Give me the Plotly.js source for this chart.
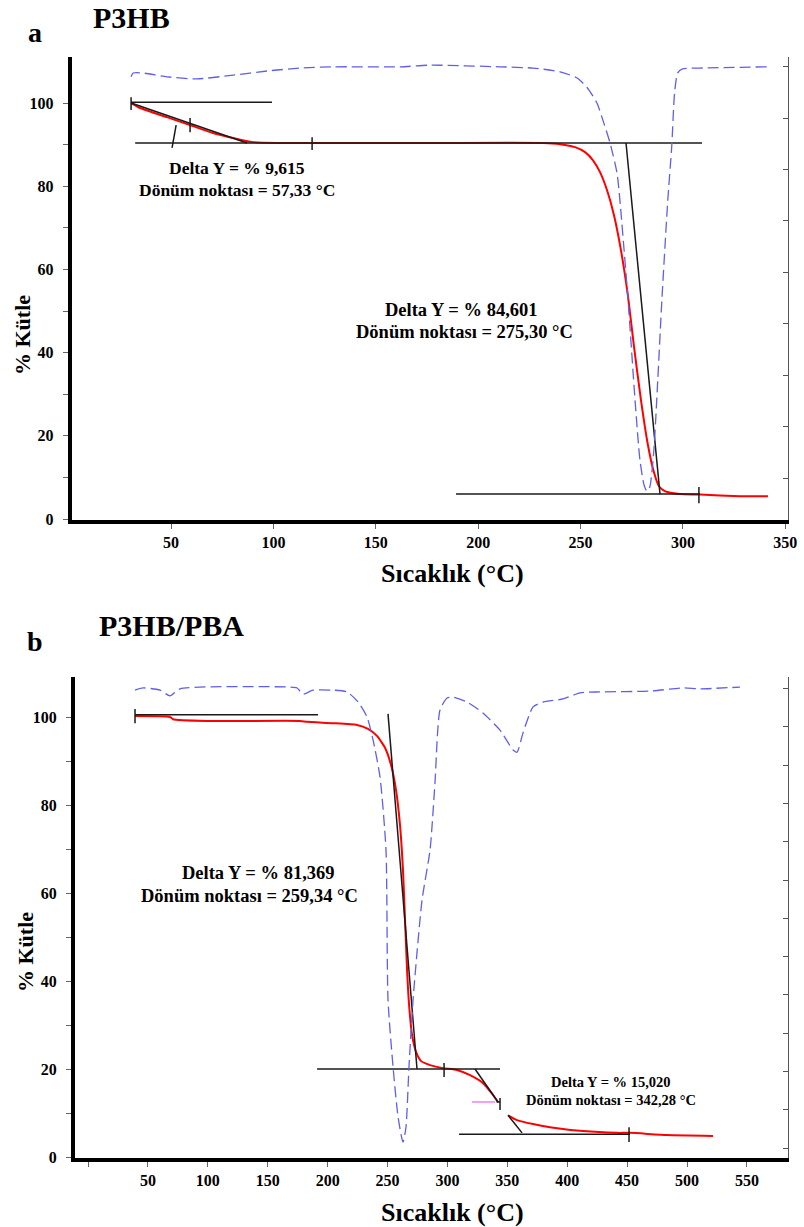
<!DOCTYPE html>
<html>
<head>
<meta charset="utf-8">
<script src="https://cdn.plot.ly/plotly-3.0.1.min.js"></script>
<style>html,body{margin:0;padding:0;background:#fff;}#chart{width:804px;height:1227px;}</style>
</head>
<body>
<div id="chart"></div>
<script>
// ---------- Panel a : P3HB ----------
const a_T    = [30.5, 34.9, 48.0, 59.3, 70.5, 80.3, 90.0, 101.8, 176.5, 231.7, 240.0, 247.3, 252.2, 256.0, 259.5, 262.9, 266.3, 269.7, 273.1, 276.0, 279.5, 282.9, 285.8, 288.3, 291.2, 294.6, 298.5, 308.3, 327.8, 341.5];
const a_mass = [100.0, 98.8, 96.6, 94.7, 92.8, 91.6, 90.6, 90.4, 90.4, 90.4, 90.1, 89.4, 88.2, 86.3, 83.4, 79.1, 73.1, 64.7, 53.8, 41.8, 28.6, 17.8, 11.3, 7.9, 6.7, 6.25, 6.0, 5.9, 5.5, 5.5];
const a_dtgT = [30.5, 31.5, 36.4, 48.0, 62.7, 80.3, 96.9, 113.0, 129.1, 161.8, 176.5, 210.7, 226.8, 240.0, 248.3, 253.1, 258.0, 260.9, 264.4, 267.8, 269.2, 273.2, 276.6, 279.0, 281.0, 282.4, 283.8, 285.8, 287.7, 289.7, 292.6, 294.5, 295.9, 297.4, 299.8, 308.2, 341.0];
const a_dtg  = [106.3, 107.2, 107.2, 106.3, 105.8, 106.7, 107.7, 108.4, 108.7, 108.7, 109.1, 108.7, 108.4, 107.5, 106.0, 103.8, 100.0, 95.9, 90.4, 83.2, 76.7, 52.6, 28.6, 14.2, 8.2, 6.7, 7.7, 16.6, 33.4, 52.6, 76.7, 89.4, 102.4, 107.2, 108.2, 108.4, 108.7];
// construction (tangent / baseline) segments, separated by null
const a_lineT = [30.5, 99.3, null, 30.5, 30.5, null, 30.5, 87.1, null, 59.3, 59.3, null, 52.5, 50.5, null, 32.5, 309.3, null, 118.9, 118.9, null, 272.2, 288.8, null, 189.2, 308.3, null, 307.8, 307.8];
const a_lineY = [100.2, 100.2, null, 101.4, 98.3, null, 100.0, 90.4, null, 96.4, 93.0, null, 94.7, 89.2, null, 90.4, 90.4, null, 91.8, 88.7, null, 90.4, 6.0, null, 6.0, 6.0, null, 7.7, 3.8];

// ---------- Panel b : P3HB/PBA ----------
const b_T    = [39.2, 68.4, 70.9, 99.3, 177.0, 182.8, 204.5, 224.5, 233.7, 241.2, 247.9, 252.9, 257.1, 260.4, 262.9, 264.6, 266.3, 268.0, 270.5, 273.8, 278.0, 285.5, 296.3, 308.0, 318.9, 329.7, 338.1, 342.2, null, 350.6, 358.1, 371.5, 385.6, 413.2, 441.6, 452.4, 483.3, 521.7];
const b_mass = [100.2, 100.0, 99.5, 99.1, 99.1, 98.9, 98.6, 98.2, 97.3, 95.7, 93.0, 89.1, 83.4, 75.5, 65.2, 53.9, 42.5, 34.5, 27.7, 23.9, 21.8, 20.9, 20.2, 19.8, 18.6, 16.8, 14.1, 12.5, null, 9.5, 8.4, 7.5, 6.8, 5.9, 5.5, 5.5, 5.0, 4.8];
const b_dtgT = [39.2, 45.9, 60.1, 68.4, 76.8, 168.6, 174.5, 179.5, 187.8, 204.5, 216.2, 225.4, 232.9, 237.9, 243.7, 248.7, 250.4, 254.6, 258.8, 262.9, 265.4, 267.9, 271.3, 278.8, 285.5, 289.6, 293.8, 299.7, 304.7, 316.4, 329.7, 343.9, 354.8, 358.1, 363.1, 371.5, 379.8, 396.5, 410.7, 427.4, 469.1, 496.7, 510.9, 544.2];
const b_dtg  = [106.1, 106.6, 106.1, 104.8, 106.4, 106.8, 106.6, 105.2, 106.1, 106.1, 105.7, 103.4, 100.0, 94.8, 86.4, 69.8, 35.7, 20.5, 9.1, 3.4, 6.8, 20.5, 35.7, 58.4, 69.8, 85.0, 101.6, 104.3, 104.5, 103.4, 100.9, 97.0, 92.5, 92.0, 96.4, 102.3, 103.4, 104.1, 105.5, 105.7, 105.9, 106.6, 106.4, 106.8];
const b_lineT = [39.2, 192.0, null, 39.2, 39.2, null, 250.4, 274.6, null, 191.2, 343.9, null, 297.2, 297.2, null, 323.0, 342.2, null, 341.0, 343.9, null, 343.9, 343.9, null, 350.6, 362.3, null, 309.7, 452.4, null, 451.6, 451.6];
const b_lineY = [100.5, 100.5, null, 101.8, 98.6, null, 100.7, 20.0, null, 20.0, 20.0, null, 21.4, 18.2, null, 20.0, 12.5, null, 12.5, 12.5, null, 13.4, 10.7, null, 9.5, 5.5, null, 5.2, 5.2, null, 6.8, 3.4];
const b_pinkT = [320.5, 339.7];
const b_pinkY = [12.5, 12.5];

// tick labels
const yTickVals = [0,10,20,30,40,50,60,70,80,90,100];
const yTickText = ['0','','20','','40','','60','','80','','100'];
const a_xTicks = [50,100,150,200,250,300,350];
const b_xTicks = [0,50,100,150,200,250,300,350,400,450,500,550];
const b_xText  = ['','50','100','150','200','250','300','350','400','450','500','550'];

const W = 804, H = 1227;
const FONT = 'Liberation Serif, Times New Roman, serif';
const RED = '#ff0000', BLUE = 'rgb(95,95,235)', BLK = '#1a1a1a';

const traces = [
  {x:a_dtgT, y:a_dtg, xaxis:'x', yaxis:'y3', mode:'lines', line:{color:BLUE, width:1.3, dash:'11px,5px', shape:'spline', smoothing:0.6}},
  {x:a_T, y:a_mass, xaxis:'x', yaxis:'y', mode:'lines', line:{color:RED, width:2, shape:'spline', smoothing:0.5}},
  {x:a_lineT, y:a_lineY, xaxis:'x', yaxis:'y', mode:'lines', connectgaps:false, line:{color:BLK, width:1.5}},
  {x:b_dtgT, y:b_dtg, xaxis:'x2', yaxis:'y4', mode:'lines', line:{color:BLUE, width:1.3, dash:'11px,5px', shape:'spline', smoothing:0.6}},
  {x:b_T, y:b_mass, xaxis:'x2', yaxis:'y2', mode:'lines', connectgaps:false, line:{color:RED, width:2, shape:'spline', smoothing:0.5}},
  {x:b_pinkT, y:b_pinkY, xaxis:'x2', yaxis:'y2', mode:'lines', line:{color:'#f080f0', width:1.5}},
  {x:b_lineT, y:b_lineY, xaxis:'x2', yaxis:'y2', mode:'lines', connectgaps:false, line:{color:BLK, width:1.5}}
];

const tickFont = {family:FONT, size:16, color:'#000', weight:'bold'};
function xAx(domain, range, anchor, vals, text){
  return {domain:domain, range:range, anchor:anchor, showline:true, linewidth:4, linecolor:'#000',
    ticks:'outside', ticklen:5, tickwidth:1, tickcolor:'#666', tickmode:'array', tickvals:vals, ticktext:text,
    tickfont:tickFont, showgrid:false, zeroline:false, ticklabelstandoff:0, fixedrange:true};
}
function yAx(domain, range, anchor){
  return {domain:domain, range:range, anchor:anchor, showline:true, linewidth:4, linecolor:'#000',
    ticks:'outside', ticklen:5, tickwidth:1, tickcolor:'#666', tickmode:'array', tickvals:yTickVals, ticktext:yTickText,
    tickfont:tickFont, showgrid:false, zeroline:false, ticklabelstandoff:6, fixedrange:true};
}
function rAx(over, anchor, range, t0, dt){
  return {overlaying:over, anchor:anchor, side:'right', range:range, showline:true, linewidth:1, linecolor:'#555',
    ticks:'inside', ticklen:5, tickwidth:1, tickcolor:'#555', tickmode:'linear', tick0:t0, dtick:dt,
    showticklabels:false, showgrid:false, zeroline:false, fixedrange:true};
}

function ann(text, px, py, size, extra){
  return Object.assign({text:text, xref:'paper', yref:'paper', x:px/W, y:1-py/H, xanchor:'center', yanchor:'middle',
    showarrow:false, font:{family:FONT, size:size, color:'#000', weight:'bold'}}, extra||{});
}

const layout = {
  width:W, height:H, margin:{l:0,r:0,t:0,b:0}, paper_bgcolor:'#fff', plot_bgcolor:'#fff', showlegend:false,
  font:{family:FONT},
  xaxis: xAx([71.7/W, 788/W], [1.5, 351.3], 'y', a_xTicks, a_xTicks.map(String)),
  yaxis: yAx([1-519.5/H, 1-57/H], [-0.1, 111.06], 'x'),
  yaxis3: rAx('y', 'x', [-0.1, 111.06], 9.86, 12.36),
  xaxis2: xAx([75/W, 788/W], [-10.9, 584.3], 'y2', b_xTicks, b_xText),
  yaxis2: yAx([1-1157.5/H, 1-677/H], [-0.1, 109.09], 'x2'),
  yaxis4: rAx('y2', 'x2', [-0.1, 109.09], 2.05, 8.7),
  annotations: [
    ann('a', 35, 33, 28),
    ann('P3HB', 131, 18, 30),
    ann('Delta Y = % 9,615', 237, 168, 17.5),
    ann('Dönüm noktası = 57,33 °C', 237, 190, 17.5),
    ann('Delta Y = % 84,601', 461, 310, 18.5),
    ann('Dönüm noktası = 275,30 °C', 465, 332, 18.5),
    ann('% Kütle', 22, 335, 22, {textangle:-90}),
    ann('Sıcaklık (°C)', 452, 573, 26),
    ann('b', 35, 641, 28),
    ann('P3HB/PBA', 171, 625, 30),
    ann('Delta Y = % 81,369', 258, 873, 18.5),
    ann('Dönüm noktası = 259,34 °C', 250, 896, 18.5),
    ann('Delta Y = % 15,020', 611, 1082, 14.5),
    ann('Dönüm noktası = 342,28 °C', 611, 1100, 14.5),
    ann('% Kütle', 25, 952, 22, {textangle:-90}),
    ann('Sıcaklık (°C)', 452, 1212, 26)
  ]
};

Plotly.newPlot('chart', traces, layout, {staticPlot:true, displayModeBar:false});
</script>
</body>
</html>
